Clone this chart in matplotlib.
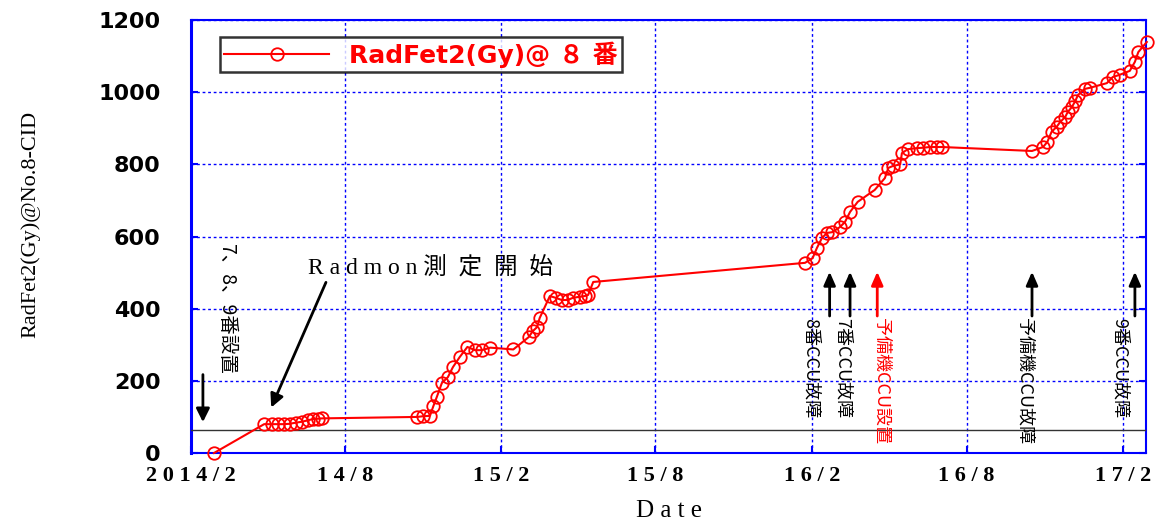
import numpy as np
import pandas as pd
import matplotlib
matplotlib.use('Agg')
import matplotlib.pyplot as plt
import matplotlib.dates as mdates

plt.rcParams['font.family'] = ['DejaVu Sans', 'Noto Sans CJK JP']

# RadFet2 dose readings (Gy) at No.8
dates = ['2014-02-28', '2014-04-28', '2014-05-07', '2014-05-14', '2014-05-21', '2014-05-28',
         '2014-06-04', '2014-06-12', '2014-06-19', '2014-06-24', '2014-06-30', '2014-07-05',
         '2014-10-25', '2014-11-01', '2014-11-09', '2014-11-13', '2014-11-17', '2014-11-23',
         '2014-11-30', '2014-12-06', '2014-12-14', '2014-12-23', '2015-01-01', '2015-01-09',
         '2015-01-19', '2015-02-15', '2015-03-05', '2015-03-10', '2015-03-15', '2015-03-18',
         '2015-03-30', '2015-04-06', '2015-04-13', '2015-04-20', '2015-04-26', '2015-05-04',
         '2015-05-10', '2015-05-14', '2015-05-20',
         '2016-01-24', '2016-02-02', '2016-02-07', '2016-02-13', '2016-02-19', '2016-02-25',
         '2016-03-05', '2016-03-11', '2016-03-17', '2016-03-26', '2016-04-15', '2016-04-27',
         '2016-05-01', '2016-05-06', '2016-05-15', '2016-05-17', '2016-05-24', '2016-06-04',
         '2016-06-11', '2016-06-19', '2016-06-27', '2016-07-03',
         '2016-10-17', '2016-10-30', '2016-11-04', '2016-11-09', '2016-11-15', '2016-11-19',
         '2016-11-25', '2016-11-28', '2016-12-03', '2016-12-07', '2016-12-10', '2016-12-18',
         '2016-12-24', '2017-01-13', '2017-01-20', '2017-01-28', '2017-02-09', '2017-02-15',
         '2017-02-19', '2017-03-01']
dose = [0, 80, 80, 80, 80, 81,
        84, 87, 91, 94, 95, 96,
        100, 102, 103, 130, 155, 194,
        210, 238, 266, 294, 285, 285,
        292, 287, 321, 338, 349, 374,
        435, 430, 424, 424, 430, 433,
        435, 438, 474,
        527, 540, 568, 596, 610, 612,
        626, 640, 668, 696, 729, 762,
        790, 795, 800, 831, 842, 845,
        846, 848, 848, 848,
        837, 848, 862, 890, 904, 917,
        931, 945, 959, 976, 992, 1009,
        1012, 1025, 1042, 1048, 1059, 1084,
        1111, 1139]

tick_dates = ['2014-02-01', '2014-08-01', '2015-02-01', '2015-08-01',
              '2016-02-01', '2016-08-01', '2017-02-01']
tick_labels = ['2014/2', '14/8', '15/2', '15/8', '16/2', '16/8', '17/2']
threshold = 64

# events marked with upward arrows and vertical text
ev_dates = ['2016-02-22', '2016-03-17', '2016-04-18', '2016-10-17', '2017-02-15']
ev_text_dates = ['2016-01-30', '2016-03-08', '2016-04-23', '2016-10-08', '2017-01-28']
ev_texts = ['8番CCU故障', '7番CCU故障', '予備機CCU設置', '予備機CCU故障', '9番CCU故障']
ev_colors = ['black', 'black', 'red', 'black', 'black']

x = pd.to_datetime(dates)

fig = plt.figure(figsize=(11.64, 5.23), dpi=100)
ax = fig.add_axes([0.1641, 0.1338, 0.8204, 0.828])

ax.plot(x, dose, color='red', lw=1.5, marker='o', ms=9, mfc='none', mec='red',
        mew=1.3, clip_on=False, zorder=5, label='RadFet2(Gy)@ ８ 番')
ax.axhline(threshold, color='#333333', lw=1.0, zorder=3)

ax.set_xlim(pd.Timestamp('2014-02-01'), pd.Timestamp('2017-02-28'))
ax.set_ylim(0, 1200)
ax.set_yticks(np.arange(0, 1201, 200))
ax.set_xticks(pd.to_datetime(tick_dates))
ax.set_xticklabels([' '.join(t) for t in tick_labels], family='Liberation Serif',
                   fontsize=16, fontweight='bold')
for lab in ax.get_yticklabels():
    lab.set_fontweight('bold')
    lab.set_fontsize(16)
ax.tick_params(axis='both', direction='in', color='blue', length=5, width=1.5,
               right=True, top=False)
ax.tick_params(axis='x', pad=9)
ax.tick_params(axis='y', pad=22)
ax.grid(True, color='blue', linestyle=(0, (2, 2)), lw=1.0)
for s in ax.spines.values():
    s.set_color('blue')
    s.set_linewidth(1.5)
ax.spines['left'].set_linewidth(2.2)

ax.set_ylabel('RadFet2(Gy)@No.8-CID', family='Liberation Serif', fontsize=16)
ax.yaxis.set_label_coords(-0.158, 0.527)
fig.text(0.575, 1 - 500 / 523, 'D a t e', family='Liberation Serif', fontsize=18,
         ha='center', va='top')

leg = ax.legend(loc='upper left', bbox_to_anchor=(0.030, 0.961), borderaxespad=0,
                frameon=True, fancybox=False, handlelength=4.2, borderpad=0.18,
                prop={'family': ['DejaVu Sans', 'Noto Sans CJK JP'], 'size': 18, 'weight': 'bold'})
leg.get_frame().set_edgecolor('black')
leg.get_frame().set_linewidth(1.8)
for t in leg.get_texts():
    t.set_color('red')

# installation note
ax.annotate('', xy=(pd.Timestamp('2014-02-15'), 78), xytext=(pd.Timestamp('2014-02-15'), 225),
            arrowprops=dict(arrowstyle='-|>,head_length=0.8,head_width=0.4', color='black', lw=2))
ax.text(pd.Timestamp('2014-03-15'), 580, '7、8、9番設置', rotation=-90, ha='center', va='top',
        family=['Noto Sans CJK JP'], fontsize=14)

# Radmon start
ax.annotate('', xy=(pd.Timestamp('2014-05-05'), 119), xytext=(pd.Timestamp('2014-07-11'), 480),
            arrowprops=dict(arrowstyle='-|>,head_length=0.8,head_width=0.4', color='black', lw=2))
ax.text(pd.Timestamp('2014-06-19'), 513, 'R a d m o n 測  定  開  始', ha='left', va='center',
        family=['Liberation Serif', 'Noto Sans CJK JP'], fontsize=17)

for d, td, t, c in zip(ev_dates, ev_text_dates, ev_texts, ev_colors):
    ax.annotate('', xy=(pd.Timestamp(d), 510), xytext=(pd.Timestamp(d), 372),
                arrowprops=dict(arrowstyle='-|>,head_length=0.8,head_width=0.35', color=c, lw=2))
    ax.text(pd.Timestamp(td), 375, t, rotation=-90, ha='center', va='top', color=c,
            family=['Noto Sans CJK JP'], fontsize=13)

fig.savefig('out.png', dpi=100)
